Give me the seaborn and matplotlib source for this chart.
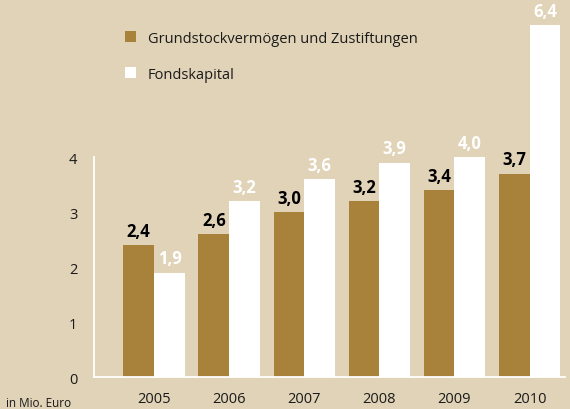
import matplotlib
matplotlib.use("Agg")
import matplotlib.pyplot as plt
from matplotlib.patches import Patch
import pandas as pd
import seaborn as sns

years = ["2005", "2006", "2007", "2008", "2009", "2010"]
grundstock = [2.4, 2.6, 3.0, 3.2, 3.4, 3.7]
fondskapital = [1.9, 3.2, 3.6, 3.9, 4.0, 6.4]
series_names = ["Grundstockvermögen und Zustiftungen", "Fondskapital"]
y_ticks = [0, 1, 2, 3, 4]

bg = "#e1d3b7"
brown = "#a8823a"
white = "#ffffff"

df = pd.DataFrame({
    "Jahr": years * 2,
    "Wert": grundstock + fondskapital,
    "Reihe": [series_names[0]] * len(years) + [series_names[1]] * len(years),
})

sns.set_style("white")
plt.rcParams["font.family"] = ["Open Sans", "DejaVu Sans"]

fig = plt.figure(figsize=(5.7, 4.1), dpi=100, facecolor=bg)
ax = fig.add_axes([0.165, 0.078, 0.826, 0.885])
ax.set_facecolor(bg)

sns.barplot(data=df, x="Jahr", y="Wert", hue="Reihe", order=years,
            hue_order=series_names, palette=[brown, white], width=0.82,
            saturation=1, edgecolor="none", linewidth=0, legend=False, ax=ax)

# value labels
for cont, col in zip(ax.containers, ["black", "white"]):
    labels = [f"{v:.1f}".replace(".", ",") for v in cont.datavalues]
    ax.bar_label(cont, labels=labels, padding=4, color=col,
                 fontsize=12, fontweight="bold")

ax.set_xlim(-0.8, 5.47)
ax.set_ylim(0, 6.6)
ax.set_yticks(y_ticks)
ax.set_xlabel("")
ax.set_ylabel("")

for s in ["top", "right"]:
    ax.spines[s].set_visible(False)
ax.spines["left"].set_bounds(0, 4)
ax.spines["left"].set_color("white")
ax.spines["left"].set_linewidth(1.3)
ax.spines["bottom"].set_color("white")
ax.spines["bottom"].set_linewidth(1.3)

ax.tick_params(axis="y", direction="in", length=4, width=1.3, color="white",
               labelsize=10.5, pad=12, labelcolor="#1a1a1a")
ax.tick_params(axis="x", length=0, labelsize=10.5, pad=10, labelcolor="#1a1a1a")

handles = [Patch(facecolor=brown, edgecolor="none"),
           Patch(facecolor=white, edgecolor="none")]
fig.legend(handles, series_names, loc="upper left",
           bbox_to_anchor=(0.197, 0.955), frameon=False, fontsize=10.5,
           handlelength=0.75, handleheight=0.75, handletextpad=0.8,
           labelspacing=1.45, labelcolor="#1a1a1a")

fig.text(0.01, 0.0, "in Mio. Euro", fontsize=8.5, color="#1a1a1a",
         ha="left", va="bottom")

fig.savefig("out.png", dpi=100, facecolor=bg)
